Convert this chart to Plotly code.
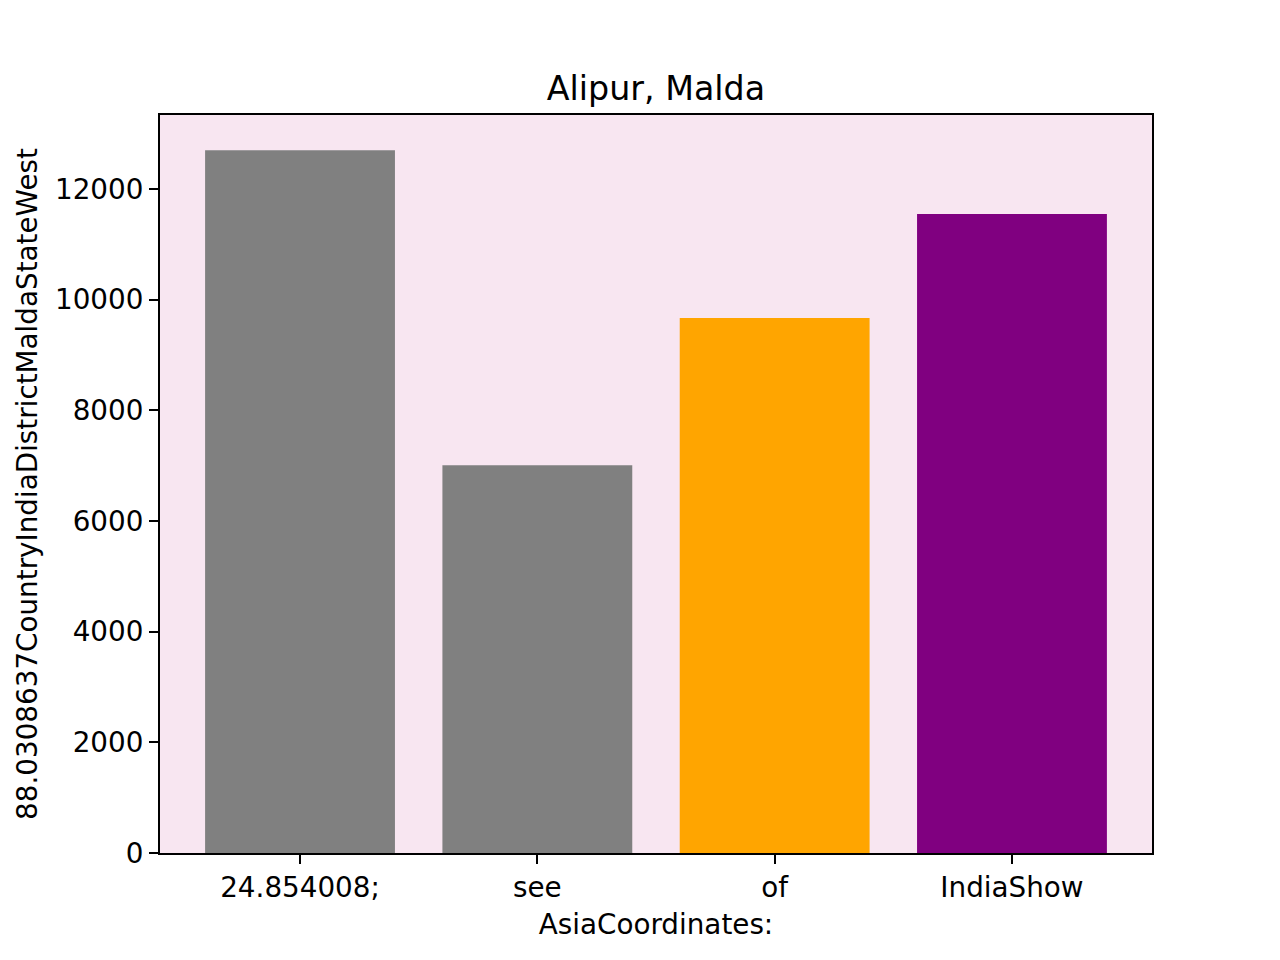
import plotly.graph_objects as go

# 数据
categories = ["24.854008;", "see", "of", "IndiaShow"]
values = [12700, 7010, 9670, 11550]
bar_colors = ["#808080", "#808080", "#ffa500", "#800080"]
y_ticks = [0, 2000, 4000, 6000, 8000, 10000, 12000]

FONT = "DejaVu Sans"
OFF = 8  # 页面 body 边距补偿

fig = go.Figure()
fig.add_trace(go.Bar(
    x=list(range(len(categories))),
    y=values,
    width=0.8,
    marker=dict(color=bar_colors, line=dict(width=0)),
))

fig.update_layout(
    width=1280, height=960,
    margin=dict(l=160 - OFF, r=128 + OFF, t=115 - OFF, b=107 + OFF),
    paper_bgcolor="white",
    plot_bgcolor="#f8e6f1",
    showlegend=False,
    font=dict(family=FONT, size=27.8, color="black"),
    title=dict(text="Alipur, Malda", x=(656 - OFF) / 1280, xanchor="center",
               y=1 - (88 - OFF) / 960, yanchor="middle", font=dict(size=33.3)),
)

fig.update_xaxes(
    range=[-0.59, 3.59],
    tickmode="array",
    tickvals=list(range(len(categories))),
    ticktext=categories,
    tickfont=dict(size=27.8),
    ticks="outside", ticklen=9, tickwidth=2, tickcolor="black",
    showline=True, linecolor="black", linewidth=2, mirror=True,
    showgrid=False, zeroline=False,
    title=dict(text="AsiaCoordinates:", standoff=11, font=dict(size=27.8)),
)
fig.update_yaxes(
    range=[0, 13338],
    tickmode="array",
    tickvals=y_ticks,
    ticktext=[str(v) for v in y_ticks],
    tickfont=dict(size=27.8),
    ticks="outside", ticklen=9, tickwidth=2, tickcolor="black",
    showline=True, linecolor="black", linewidth=2, mirror=True,
    showgrid=False, zeroline=False,
    title=dict(text="88.0308637CountryIndiaDistrictMaldaStateWest", standoff=9,
               font=dict(size=27.8)),
)

fig.write_html("out.html")
